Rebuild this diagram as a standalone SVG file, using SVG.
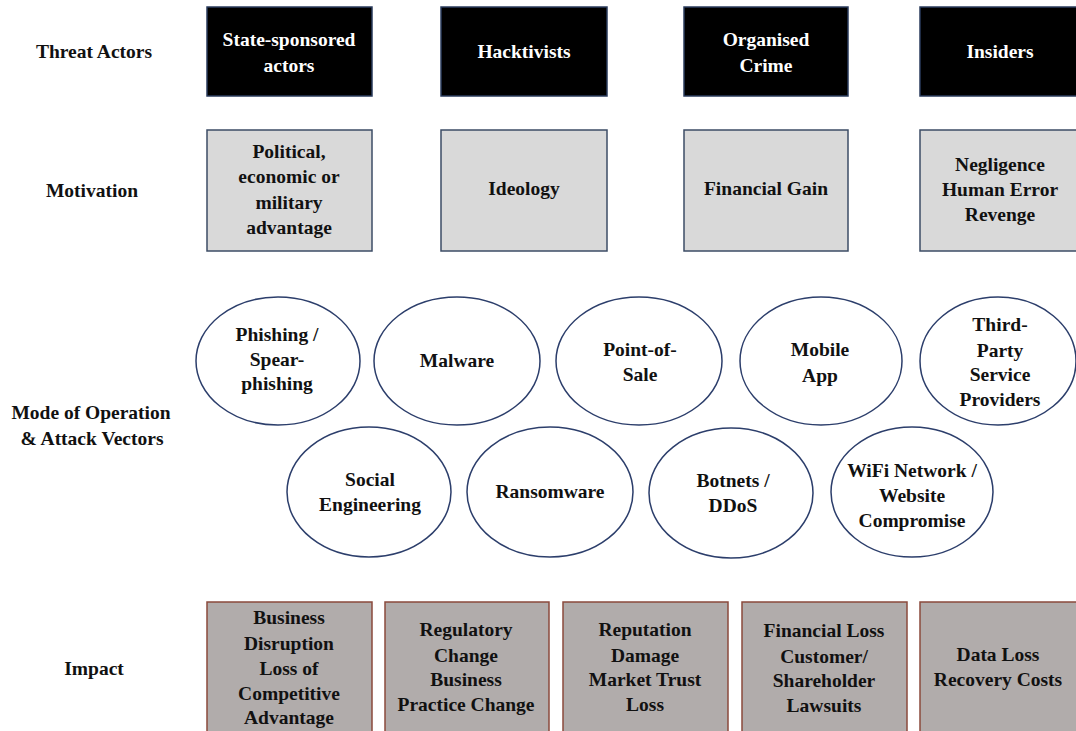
<svg xmlns="http://www.w3.org/2000/svg" width="1076" height="731" viewBox="0 0 1076 731">
<style>
text{font-family:"Liberation Serif","Times New Roman",serif;font-weight:bold;font-size:19.5px;text-anchor:middle;fill:#111}
.actor rect{fill:#000;stroke:#2a3b5c;stroke-width:1.5}
.actor text{fill:#fff}
.motive rect{fill:#d9d9d9;stroke:#3c4c66;stroke-width:1.5}
.vector ellipse{fill:#fff;stroke:#2c3e6b;stroke-width:1.5}
.impact rect{fill:#b1acab;stroke:#8b4a3c;stroke-width:1.5}
</style>
<rect width="1076" height="731" fill="#fff"/>
<g id="labels">
<text x="94" y="58">Threat Actors</text>
<text x="92" y="197">Motivation</text>
<text x="91" y="419">Mode of Operation</text>
<text x="92" y="445">&amp; Attack Vectors</text>
<text x="94" y="675">Impact</text>
</g>
<g id="connectors"></g>
<g id="actor-state" class="actor"><rect x="207" y="7" width="165" height="89"/><text x="289" y="46">State-sponsored</text><text x="289" y="72">actors</text></g>
<g id="actor-hacktivists" class="actor"><rect x="441" y="7" width="166" height="89"/><text x="524" y="58">Hacktivists</text></g>
<g id="actor-crime" class="actor"><rect x="684" y="7" width="164" height="89"/><text x="766" y="46">Organised</text><text x="766" y="72">Crime</text></g>
<g id="actor-insiders" class="actor"><rect x="920" y="7" width="170" height="89"/><text x="1000" y="58">Insiders</text></g>

<g id="motive-political" class="motive"><rect x="207" y="130" width="165" height="121"/><text x="289" y="158">Political,</text><text x="289" y="183">economic or</text><text x="289" y="209">military</text><text x="289" y="234">advantage</text></g>
<g id="motive-ideology" class="motive"><rect x="441" y="130" width="166" height="121"/><text x="524" y="195">Ideology</text></g>
<g id="motive-financial" class="motive"><rect x="684" y="130" width="164" height="121"/><text x="766" y="195">Financial Gain</text></g>
<g id="motive-negligence" class="motive"><rect x="920" y="130" width="170" height="121"/><text x="1000" y="171">Negligence</text><text x="1000" y="196">Human Error</text><text x="1000" y="221">Revenge</text></g>

<g id="vector-phishing" class="vector"><ellipse cx="278" cy="361" rx="82" ry="64"/><text x="277" y="341">Phishing /</text><text x="277" y="366">Spear-</text><text x="277" y="390">phishing</text></g>
<g id="vector-malware" class="vector"><ellipse cx="457" cy="361" rx="83" ry="64"/><text x="457" y="367">Malware</text></g>
<g id="vector-pos" class="vector"><ellipse cx="639" cy="361" rx="83" ry="64"/><text x="640" y="356">Point-of-</text><text x="640" y="381">Sale</text></g>
<g id="vector-mobile" class="vector"><ellipse cx="821" cy="361" rx="81" ry="64"/><text x="820" y="356">Mobile</text><text x="820" y="382">App</text></g>
<g id="vector-thirdparty" class="vector"><ellipse cx="998" cy="361" rx="78" ry="64"/><text x="1000" y="331">Third-</text><text x="1000" y="357">Party</text><text x="1000" y="381">Service</text><text x="1000" y="406">Providers</text></g>
<g id="vector-social" class="vector"><ellipse cx="369" cy="492" rx="82" ry="65"/><text x="370" y="486">Social</text><text x="370" y="511">Engineering</text></g>
<g id="vector-ransomware" class="vector"><ellipse cx="550" cy="492" rx="83" ry="65"/><text x="550" y="498">Ransomware</text></g>
<g id="vector-botnets" class="vector"><ellipse cx="731" cy="493" rx="82" ry="65"/><text x="733" y="487">Botnets /</text><text x="733" y="512">DDoS</text></g>
<g id="vector-wifi" class="vector"><ellipse cx="912" cy="492" rx="81" ry="65"/><text x="912" y="477">WiFi Network /</text><text x="912" y="502">Website</text><text x="912" y="527">Compromise</text></g>

<g id="impact-business" class="impact"><rect x="207" y="602" width="165" height="140"/><text x="289" y="624">Business</text><text x="289" y="650">Disruption</text><text x="289" y="675">Loss of</text><text x="289" y="700">Competitive</text><text x="289" y="724">Advantage</text></g>
<g id="impact-regulatory" class="impact"><rect x="385" y="602" width="164" height="140"/><text x="466" y="636">Regulatory</text><text x="466" y="662">Change</text><text x="466" y="686">Business</text><text x="466" y="711">Practice Change</text></g>
<g id="impact-reputation" class="impact"><rect x="563" y="602" width="165" height="140"/><text x="645" y="636">Reputation</text><text x="645" y="662">Damage</text><text x="645" y="686">Market Trust</text><text x="645" y="711">Loss</text></g>
<g id="impact-financial" class="impact"><rect x="742" y="602" width="165" height="140"/><text x="824" y="637">Financial Loss</text><text x="824" y="663">Customer/</text><text x="824" y="687">Shareholder</text><text x="824" y="712">Lawsuits</text></g>
<g id="impact-data" class="impact"><rect x="920" y="602" width="170" height="140"/><text x="998" y="661">Data Loss</text><text x="998" y="686">Recovery Costs</text></g>
</svg>
